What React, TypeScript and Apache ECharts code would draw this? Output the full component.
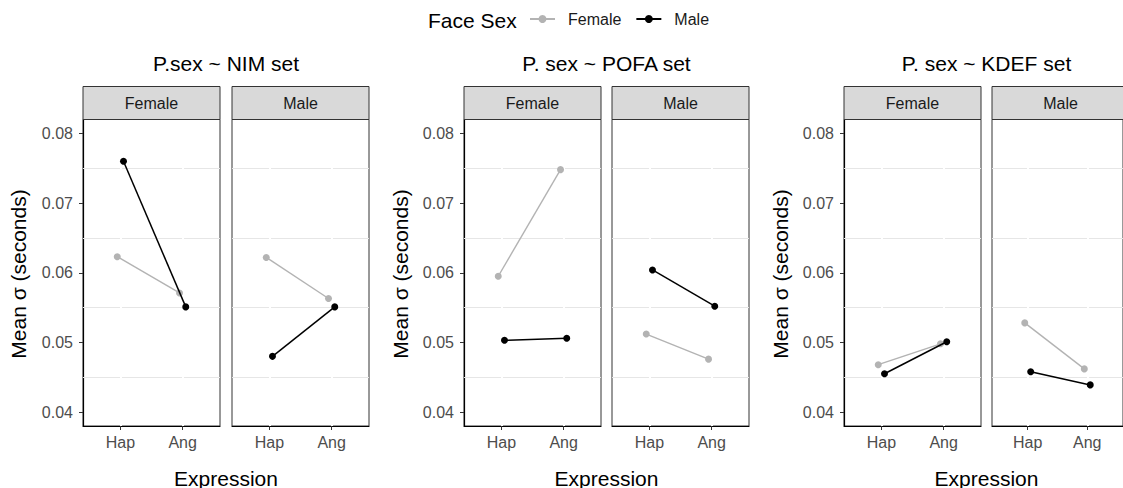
import React, { useEffect, useRef } from "react";
import * as echarts from "echarts";

// ---- data ----
const categories = ["Hap", "Ang"];
const panelTitles = ["P.sex ~ NIM set", "P. sex ~ POFA set", "P. sex ~ KDEF set"];
const facetNames = ["Female", "Male"];
const yTicks = [0.04, 0.05, 0.06, 0.07, 0.08];
const minorGrid = [0.045, 0.055, 0.065, 0.075];

// values per facet [Female facet, Male facet], each [Hap, Ang]
const nimFemaleFace = [[0.0623, 0.0571], [0.0622, 0.0563]];
const nimMaleFace = [[0.076, 0.0551], [0.048, 0.0551]];
const pofaFemaleFace = [[0.0595, 0.0748], [0.0512, 0.0476]];
const pofaMaleFace = [[0.0503, 0.0506], [0.0604, 0.0552]];
const kdefFemaleFace = [[0.0468, 0.0498], [0.0528, 0.0462]];
const kdefMaleFace = [[0.0455, 0.0501], [0.0458, 0.0439]];

const femaleFaceSets = [nimFemaleFace, pofaFemaleFace, kdefFemaleFace];
const maleFaceSets = [nimMaleFace, pofaMaleFace, kdefMaleFace];

// ---- layout / style ----
const FONT = "Liberation Sans, Arial, Helvetica, sans-serif";
const GRAY = "#b3b3b3";
const BLACK = "#000000";
const dodge = 0.05;
const gridLefts = [83, 232, 464, 612, 844, 992];
const gridTop = 119.5;
const gridW = 137;
const gridH = 306.5;
const panelCenters = [226, 606.5, 986.5];
const yTitleX = [18, 400, 780];

export default function App() {
  const ref = useRef<HTMLDivElement>(null);

  useEffect(() => {
    if (!ref.current) return;
    const chart = echarts.init(ref.current, undefined, { renderer: "svg" });

    const grids: any[] = [];
    const xAxes: any[] = [];
    const yAxes: any[] = [];
    const series: any[] = [];
    const graphics: any[] = [];

    for (let p = 0; p < 3; p++) {
      for (let f = 0; f < 2; f++) {
        const gi = p * 2 + f;
        const left = gridLefts[gi];
        grids.push({
          left,
          top: gridTop,
          width: gridW,
          height: gridH,
          show: true,
          borderColor: "#333333",
          borderWidth: 1,
          backgroundColor: "#ffffff",
        });
        xAxes.push({
          type: "value",
          gridIndex: gi,
          min: 0.4,
          max: 2.6,
          axisLine: { show: true, onZero: false, lineStyle: { color: "#000", width: 1.2 } },
          axisTick: { show: true, customValues: [1, 2], length: 4, lineStyle: { color: "#333" } },
          axisLabel: {
            show: true,
            customValues: [1, 2],
            formatter: (v: number) => categories[Math.round(v) - 1] ?? "",
            fontSize: 16,
            color: "#4d4d4d",
            fontFamily: FONT,
            margin: 8,
          },
          splitLine: { show: false },
        });
        yAxes.push({
          type: "value",
          gridIndex: gi,
          min: 0.038,
          max: 0.082,
          axisLine: { show: f === 0, onZero: false, lineStyle: { color: "#000", width: 1.2 } },
          axisTick: { show: f === 0, customValues: yTicks, length: 4, lineStyle: { color: "#333" } },
          axisLabel: {
            show: f === 0,
            customValues: yTicks,
            formatter: (v: number) => v.toFixed(2),
            fontSize: 16,
            color: "#4d4d4d",
            fontFamily: FONT,
            margin: 10,
          },
          splitLine: { show: false },
        });
        // gridlines
        series.push({
          type: "line",
          name: "grid" + gi,
          xAxisIndex: gi,
          yAxisIndex: gi,
          data: [],
          z: 1,
          silent: true,
          markLine: {
            silent: true,
            z: 1,
            precision: 6,
            symbol: ["none", "none"],
            label: { show: false },
            emphasis: { disabled: true },
            lineStyle: { type: "solid", color: "#e6e6e6", width: 1 },
            animation: false,
            data: [
              ...minorGrid.map((v) => ({ yAxis: v, lineStyle: { color: "#e6e6e6", width: 1, type: "solid" } })),
              ...[1, 2].map((v) => ({ xAxis: v, lineStyle: { color: "#ffffff", width: 2, type: "solid" } })),
            ],
          },
        });
        const fem = femaleFaceSets[p][f];
        const mal = maleFaceSets[p][f];
        series.push({
          type: "line",
          name: "Female",
          xAxisIndex: gi,
          yAxisIndex: gi,
          data: fem.map((v, i) => [i + 1 - dodge, v]),
          symbol: "circle",
          symbolSize: 7,
          itemStyle: { color: GRAY },
          lineStyle: { color: GRAY, width: 1.4 },
          z: 3,
        });
        series.push({
          type: "line",
          name: "Male",
          xAxisIndex: gi,
          yAxisIndex: gi,
          data: mal.map((v, i) => [i + 1 + dodge, v]),
          symbol: "circle",
          symbolSize: 7,
          itemStyle: { color: BLACK },
          lineStyle: { color: BLACK, width: 1.5 },
          z: 4,
        });
        // strip
        graphics.push({
          type: "rect",
          shape: { x: left, y: 86.5, width: gridW, height: 33 },
          style: { fill: "#d9d9d9", stroke: "#333333", lineWidth: 1 },
          z: 10,
        });
        graphics.push({
          type: "text",
          x: left + gridW / 2,
          y: 103,
          style: {
            text: facetNames[f],
            fontSize: 16,
            fontFamily: FONT,
            fill: "#1a1a1a",
            align: "center",
            verticalAlign: "middle",
          },
          z: 11,
        });
      }
      graphics.push({
        type: "text",
        x: panelCenters[p],
        y: 63,
        style: {
          text: panelTitles[p],
          fontSize: 21,
          fontFamily: FONT,
          fill: "#000",
          align: "center",
          verticalAlign: "middle",
        },
      });
      graphics.push({
        type: "text",
        x: panelCenters[p],
        y: 478,
        style: {
          text: "Expression",
          fontSize: 21,
          fontFamily: FONT,
          fill: "#000",
          align: "center",
          verticalAlign: "middle",
        },
      });
      graphics.push({
        type: "text",
        x: yTitleX[p],
        y: 274,
        rotation: Math.PI / 2,
        style: {
          text: "Mean σ (seconds)",
          fontSize: 21,
          fontFamily: FONT,
          fill: "#000",
          align: "center",
          verticalAlign: "middle",
        },
      });
    }

    graphics.push({
      type: "text",
      x: 428,
      y: 20,
      style: {
        text: "Face Sex",
        fontSize: 21,
        fontFamily: FONT,
        fill: "#000",
        align: "left",
        verticalAlign: "middle",
      },
    });

    chart.setOption({
      animation: false,
      backgroundColor: "#ffffff",
      legend: {
        data: ["Female", "Male"],
        left: 524,
        top: 6,
        itemWidth: 25,
        itemHeight: 10,
        itemGap: 14,
        textStyle: { fontSize: 16, fontFamily: FONT, color: "#1a1a1a", padding: [0, 0, 0, 8] },
      },
      grid: grids,
      xAxis: xAxes,
      yAxis: yAxes,
      series,
      graphic: graphics,
    });

    return () => chart.dispose();
  }, []);

  return (
    <div
      ref={ref}
      style={{ position: "fixed", left: 0, top: 0, width: 1123, height: 488, background: "#fff" }}
    />
  );
}
